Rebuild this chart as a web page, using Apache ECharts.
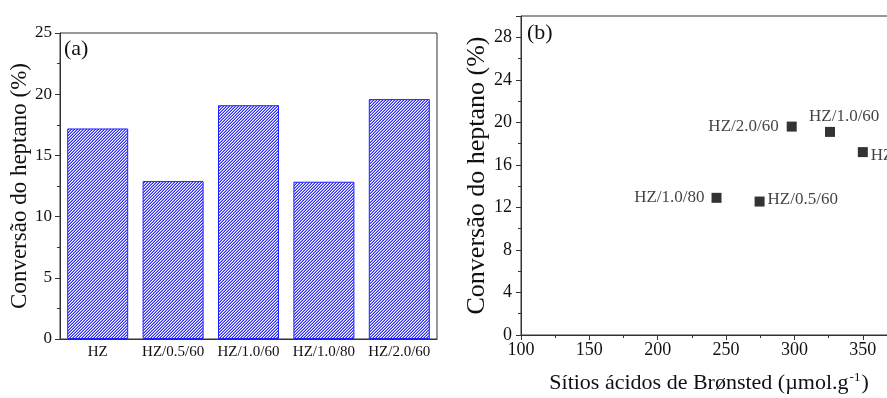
<!DOCTYPE html>
<html>
<head>
<meta charset="utf-8">
<script src="https://cdn.jsdelivr.net/npm/echarts@6/dist/echarts.min.js"></script>
<style>
html,body{margin:0;padding:0;background:#fff;}
#chart{width:887px;height:398px;}
</style>
</head>
<body>
<div id="chart"></div>
<script>
// ---- data ----
const barCategories = ['HZ', 'HZ/0.5/60', 'HZ/1.0/60', 'HZ/1.0/80', 'HZ/2.0/60'];
const barValues = [17.2, 12.9, 19.1, 12.85, 19.6];

const scatterNames = ['HZ/2.0/60', 'HZ/1.0/60', 'HZ', 'HZ/1.0/80', 'HZ/0.5/60'];
const scatterX = [298, 326, 350, 243, 274.5];
const scatterY = [19.6, 19.1, 17.2, 12.9, 12.55];

const panelLabels = ['(a)', '(b)'];
const yNameA = 'Conversão do heptano (%)';
const yNameB = 'Conversão do heptano (%)';
const xNameB = 'Sítios ácidos de Brønsted (µmol.g{sup|-1})';

// ---- styles ----
const FONT = '"Liberation Serif", "Times New Roman", serif';
const AX = '#333';

function makeHatch() {
  const c = document.createElement('canvas');
  c.width = 3; c.height = 3;
  const ctx = c.getContext('2d');
  ctx.fillStyle = '#ffffff';
  ctx.fillRect(0, 0, 3, 3);
  for (let x = 0; x < 3; x++) {
    for (let y = 0; y < 3; y++) {
      const s = (x + y) % 3;
      if (s === 2) { ctx.fillStyle = '#2a2aff'; ctx.fillRect(x, y, 1, 1); }
      else if (s === 1) { ctx.fillStyle = '#8f8fff'; ctx.fillRect(x, y, 1, 1); }
    }
  }
  return c;
}

// label placements per point (style only)
const labelPlacement = {
  'HZ/2.0/60': { position: 'left', distance: 8 },
  'HZ/1.0/60': { position: [-16, -10], align: 'left', verticalAlign: 'middle' },
  'HZ': { position: 'right', distance: 3, offset: [0, 3] },
  'HZ/1.0/80': { position: 'left', distance: 7 },
  'HZ/0.5/60': { position: 'right', distance: 3, offset: [0, -2] }
};

const scatterData = scatterNames.map((n, i) => ({
  name: n,
  value: [scatterX[i], scatterY[i]],
  label: Object.assign({ show: true, formatter: n }, labelPlacement[n])
}));

const chart = echarts.init(document.getElementById('chart'), null, { renderer: 'canvas' });

const option = {
  animation: false,
  backgroundColor: '#fff',
  textStyle: { fontFamily: FONT },
  grid: [
    { left: 60, top: 33, width: 377, height: 306, show: true, borderColor: AX, borderWidth: 1, backgroundColor: 'transparent', outerBoundsMode: 'none', containLabel: false },
    { left: 521, top: 16, width: 376, height: 319, show: true, borderColor: AX, borderWidth: 1, backgroundColor: 'transparent', outerBoundsMode: 'none', containLabel: false }
  ],
  xAxis: [
    {
      gridIndex: 0, type: 'category', data: barCategories,
      axisLine: { lineStyle: { color: AX, width: 1 } },
      axisTick: { show: false },
      axisLabel: { color: '#111', fontFamily: FONT, fontSize: 15, margin: 6, interval: 0 },
      splitLine: { show: false }
    },
    {
      gridIndex: 1, type: 'value', min: 100, max: 375, interval: 50,
      axisLine: { lineStyle: { color: AX, width: 1 } },
      axisTick: { show: true, length: 5, lineStyle: { color: AX } },
      minorTick: { show: true, splitNumber: 2, length: 3, lineStyle: { color: AX } },
      axisLabel: { color: '#111', fontFamily: FONT, fontSize: 18, margin: 6, showMaxLabel: false },
      splitLine: { show: false },
      minorSplitLine: { show: false },
      name: xNameB, nameLocation: 'middle', nameGap: 36,
      nameTextStyle: {
        color: '#111', fontFamily: FONT, fontSize: 22,
        rich: { sup: { fontSize: 13, fontFamily: FONT, color: '#111', verticalAlign: 'top', padding: [0, 1, 12, 1] } }
      }
    }
  ],
  yAxis: [
    {
      gridIndex: 0, type: 'value', min: 0, max: 25, interval: 5,
      axisLine: { show: true, lineStyle: { color: AX, width: 1 } },
      axisTick: { show: true, length: 5, lineStyle: { color: AX } },
      minorTick: { show: true, splitNumber: 2, length: 3, lineStyle: { color: AX } },
      axisLabel: { color: '#111', fontFamily: FONT, fontSize: 17, margin: 8 },
      splitLine: { show: false },
      minorSplitLine: { show: false },
      name: yNameA, nameLocation: 'middle', nameGap: 29, nameRotate: 90,
      nameTextStyle: { color: '#111', fontFamily: FONT, fontSize: 23 }
    },
    {
      gridIndex: 1, type: 'value', min: 0, max: 30, interval: 4,
      axisLine: { show: true, lineStyle: { color: AX, width: 1 } },
      axisTick: { show: true, length: 5, lineStyle: { color: AX } },
      minorTick: { show: true, splitNumber: 2, length: 3, lineStyle: { color: AX } },
      axisLabel: { color: '#111', fontFamily: FONT, fontSize: 18, margin: 9, showMaxLabel: false },
      splitLine: { show: false },
      minorSplitLine: { show: false },
      name: yNameB, nameLocation: 'middle', nameGap: 25, nameRotate: 90,
      nameTextStyle: { color: '#111', fontFamily: FONT, fontSize: 26 }
    }
  ],
  series: [
    {
      type: 'bar', xAxisIndex: 0, yAxisIndex: 0,
      data: barValues, barWidth: 61,
      itemStyle: {
        color: { image: makeHatch(), repeat: 'repeat' },
        borderColor: '#2020ff', borderWidth: 1
      }
    },
    {
      type: 'scatter', xAxisIndex: 1, yAxisIndex: 1,
      symbol: 'rect', symbolSize: 10,
      itemStyle: { color: '#000' },
      label: { color: '#111', fontFamily: FONT, fontSize: 17 },
      data: scatterData
    }
  ],
  graphic: [
    { type: 'text', left: 64, top: 38, style: { text: panelLabels[0], font: '22px ' + FONT, fill: '#111' } },
    { type: 'text', left: 527, top: 22, style: { text: panelLabels[1], font: '22px ' + FONT, fill: '#111' } }
  ]
};

chart.setOption(option);
</script>
</body>
</html>
